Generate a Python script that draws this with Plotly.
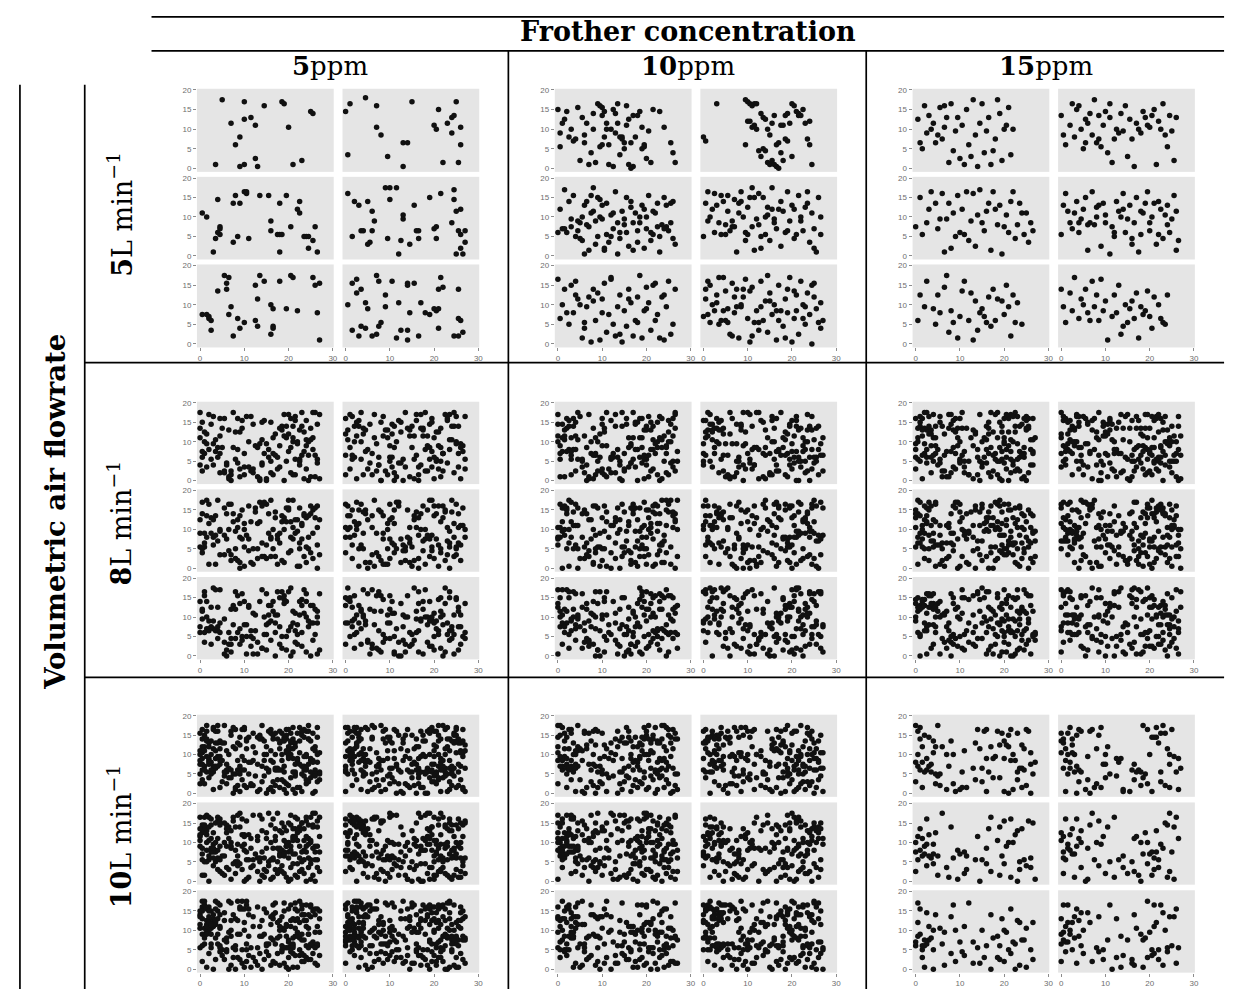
import plotly.graph_objects as go

W, H = 1252, 1006

flowrates = ["5", "8", "10"]        # L/min, table rows
concentrations = ["5", "10", "15"]  # ppm, table columns
x_ticks = [0, 10, 20, 30]
y_ticks = [0, 5, 10, 15, 20]

# Bubble centres of the six repeat images per condition, in reading order
# (top-left, top-right, middle-left, middle-right, bottom-left, bottom-right).
# Each token is "xy": one CODE character per coordinate, in steps of 0.5.
CODE = "0123456789abcdefghijklmnopqrstuvwxyzABCDEFGHIJKLMNOPQRSTUVWXYZ"

bubbles_5L_5ppm = [
    "az ky tw By Cx en kp nq pm El Ot Ps ig gc 72 i1 k2 p5 q1 G2 K4",
    "0t 2x 17 9A ew el gh j6 q1 qd sd uy Gu Em Fk I3 Kn Mq Nr Mi Oy Ql Qc P3",
    """1m 3k 62 79 8t 9f 9e 8c 9b fr f7 gv ha ir kx lw lx m9 rv vv wi wd Ar zb Ab
    Bb A2 Dv Ff Io Js Jm La Ma Na N4 P8 Qf R2""",
    """1w 3a 4s 6q 7d 8d as a6 b7 cd cn di iz kz kt j9 nz o1 p8 ql qj t6 vq wd xd
    x9 Ee Ff F9 Cu Hw Mh Ny Nt On Qo Pd Qb Q4 Sd S7 O1 R1""",
    """1f 3f 4e 4d 5c 57 8r bz dy cv cs df ej f4 hd i8 kb pu pc q9 qn rz tw w5 wk
    xi x8 x9 Aw Di Fz Gy Ih Py Qu Sv Rg S2""",
    """1k 3v 37 5q 5x 64 7s 79 98 9l ai c4 ez e5 f9 fw gb ip ij lw n3 ol p7 sv su
    s7 s2 tg vv x4 yl Ag Cf Ei Gi Fh Gs G8 Hy It N4 P4 Ps Pd Qc R6""",
]

bubbles_5L_10ppm = [
    """0u 2n 1b 5g 8f 3p a4 cd e2 gk ix kv lt mn ok qs rn sg ud vw
    wp xd y1 zg Ar Bt Cl Dc E5 G3 4t 6k 9v bq dn f8 h3 jw kc mk
    n2 pu qi s7 tg ua vm w2 x0 yr Ca Db Fj Hu Kt Ml Pd Q8 R3 1i
    7e ch gs jb kr lg nc p1 rx tf""",
    """0g 1e 6x jz ky lx mw nx ox qs rq sp tk uh vn wr xc yd zm Am
    Br Cs Ex Fw Gt Hr Ir Ju Kn Lf Mo N2 Mc jc ko lo ml nm ok p9
    q6 ra s9 t3 u2 v4 w2 x1 y0 z8 A4 Bf Ce Dn E6 Hs""",
    """1o 2e 3e 4c 5s 6f 7v 8a 9i ah b8 cq dg e3 fv gn h6 ia jt kj
    l4 mr n7 ol pe qx r1 s9 tn ug vc w5 xp y3 zm Ad Bh Cq D4 Ek
    Fv G8 Hb Im Jr K2 Lg Mu Nf Od Pr Q9 R6 0c 3y 6j 9d c1 fm iu
    l3 oa rh uj xs A7 Do Gc Jf Me Ph a9 ds gz jk mb pm sc vu yh
    Bk Ee Hn Ka Nq Qs bk ef hi kq""",
    """0a 1r 2i 4o 5w 7h 8b 9s ab bv cd df et f2 gm hx ik jc kp lu
    mf n3 oj pw q4 ru sb tl u8 vz wj xe yo z5 An Bc Cx Di Eq F9
    Gb Hv Ik Jd Kp Lx M7 Nm Oe P2 Qu Rk 2x 5c 8v bn ef hs kb nu
    qa tp wh zs Cd Fo Ii Lr O4 Rb 3k 6q ag di gr j8 mz pg sk vo""",
    """0x 1d 2k 3s 5a 6u 7g 8p 9n ak b3 c8 dj eo f1 gs hc iq j2 kn
    lv m6 nf ox pa q4 rj sp t1 uh v9 ws xl y4 zc Ao Bz C3 Dh Ei
    Fl G7 Hu Iv Jf K3 Lo M2 Nj Ow P5 Qa Rs 4g 8w cb gm kg oy s5
    wn Ab Et Ic Mp""",
    """0e 1n 2w 3b 4k 6p 7y 8c 9h ar bi c5 dv eg fs g3 hj io jx kd
    l1 mt nb oh p7 qw rc sm t6 uq vf wk x2 yu zh A9 Bn Cg Dy E1
    Fd Gp H5 Iw Jk Ka Lq Mf N0 Ov Pi Qb R8 1s 5h 9y d4 hk lr pb
    tz xh B3 Fr Jd Nu Rl 2f 6l ac eo is m4 qj um yc Cs Gh Kj Oo
    Sc 3u 7a bb fj""",
]

bubbles_5L_15ppm = [
    """1p 3a 5i 6r 8n 9d bv cf dl eq f3 gx h9 ij jq k5 lm m2 nu oc
    p6 qz rh s1 tn ux v8 wj xq y2 z9 Af Bz Cs D4 Ek Fm Gv H7 Ik
    2d 4w 7k ah dw""",
    """0r 1h 2c 4m 6g 7u 8w 9k aa bp cn ds eh fz gd hr ib jm kt l8
    mq n3 of pk qi rs sj tw u6 vp wf x1 yn zk Ai Bt Cq Dm El Fr
    Gu H2 Io Jk Kx Lh Mb Nr Oj P4 Qq 5x bd hf mx""",
    """0f 2u 3b 5h 6o 7x 9r ae bj cw d2 ej fr g4 hm ia jv kc lo mb
    nx o8 pi qw r5 sl ty uh vd wn xr y3 zx Ao Bg Cq D1 Ef Fl Gc
    Hs Ix J9 Kg Lr Mm Nb Om P7 Qh Rd""",
    """0b 1q 2w 4h 5e 6m 7s 8c 9j ao bu c3 dh ex fg gk hq i5 jr kl
    m1 nf oc ps qn rk sw tc uj vq w9 xh yu z2 Ab Bm Cr Dx Ed Fk
    Gr H6 Ib Jo K9 Ll Mq Nc Oj Pv Q3 R8 3n 8h cg gp kh oa so w6
    An Eh Is Mg Qn""",
    """1c 2p 4j 5w 8i 9a ap bg dt ez f6 gh hb j3 ke lr mw oc pq q2
    rm s7 tg ui ve wb xo y9 zs Ac Bn Dm Ef Fu Gj H4 Ip Jb Kl Ma""",
    """0s 1j 2b 4q 5h 6y 8d 9n ak bs cg dc ew fj gp hc ix jh km l2
    ne op pg qu r5 s9 tk ub vi wm xd yq z3 Aj Bf Ch Dr Ee F8 Go
    Ik Jd Kb La Mp""",
]

bubbles_8L_5ppm = [
    """k3 Bq 7f Pm e0 s9 Hx 2k Mv gb 0r Qd uj 9w Ds n5 Ja ah Rt c8
    Fh 4y wa Ol 1c ip Kz xe 6j Gs hg q2 Cy Nk m7 3o Ef tv bw S1
    yd 8h Ik o4 Lp dq 5t Ai jv r0 Pg fz Dm vc 2e Ml su Hb 9n lx
    Gk ar 0z Rb te Jq 7l zc Ey 4g pi Cn wu 1f Ks i6 Or e3 Fw mk
    Bs u1 6x Nd gp Hv b4 qh Qz 3j xm Lf jr 8c Da ot ke Ij Sy 0m
    vg Ar 5b Mi c9 Eo hw 2p Pz nx 9e sl Jb fh Kd yo 1u Gm rj d2
    r1 F4 68 Q2 k7 C0 x3 15 M6 h9 O2 b5 J8 u0 37 G3 o6 d1 R9 w4
    A7 94 i2 N0 s8 e5 L1 z6 H3 08""",
    """Cb 7k Ox lt zr 4c Fp wy iq 3b Ly ag Qj 0d tq Hh ms Dw e5 Ri
    6v jm Bn x7 pu Nz 2h Ie kc g0 Sx vb 8r Ag ov Em 1l us Kv b9
    Jy ce rz Gp 9q hn Ml 5u wd Pe 3x mh Ct yy ki 0o Df qb Ok f8
    Ha sr 4k zq Rf lc 7z Bi ej Ns 1q uh gu Kw Fb x3 o9 6s Ll dm
    Qh i5 tn Az 2y Ie m0 8o ka Du yr Oj fc 5n Gi pp wv Sb 3d Ms
    bt Ec 9f nk Hr jq 0w vn Lg r7 Ch 4s hx Ps dy 7b lo Fa zn Ie
    c3 P7 g0 B5 26 t2 K9 m4 E1 y8 51 S6 j3 D7 q0 83 I5 f8 v1 N4
    a6 H2 p9 x0 A5 l7 Q1 03 G6 n2""",
    """ux Na 6g cs Rw 2b qa Jv gj 8z Bo xk ir 5i Do mf Qq 1s Km t6
    e7 Gz wf 3g Os kn Ad pt 9j Ij fs yq 0b Lr hp Ev 6c zh Mq ry
    4n Pu bh sd Hi oa Ck 1y dx Rl vi 7h ju Fo mw 2i Ng Ez kk q5
    Sp xa 5q Jd ga Kn 8e ty Gf lh 3r Qv cf Br wz no Mb 0i Dv i3
    hl Ow 2d zf Ip uc 6p Ls ro Cq ex 9k Ai pv Fg kb 4x Nr sw jf
    1a Hp yt Rc m9 dk Ja 7r bv Eu qn Pi wg 3z Gl fo Kf ig 0p vs
    e4 J1 s6 97 C3 i0 O8 u5 42 F9 k1 M3 b7 z2 L6 18 h4 R0 w6 E8
    n3 P5 72 d9 I1 y6 B4 o2 S7 g5""",
    """Lj cl 8a Bu na Sk td 4o Mt ja ze Dz gt 6u Qc hf 2r Ox kp su
    Ff oy 5k xh Iw ld 0x Cz rb Ha 9u ei vr Ng 3c Pl mn Af jk 7x
    d1 Rm ow 6a Gc ys 2l Jt kx Dh b3 wl Nn 8i fu Ps 0g Ew qc i2
    Kl 3u mc Ak x0 Ob hi 9s Ld vp 1k sg Cf e8 zw Qm 5y jn Ho r4
    tl Bh 7c Mz g4 ny Fs 1w Iq pf 4h ub Sg cr 8t yk Er 0l Ju lq
    Oa hr 5m wt Db ap 2g Rv kf xq Lb 6n Ke tf q9 Gw 1r mu dz Pd
    m8 G1 35 N6 j2 D9 v4 a0 K7 p3 x5 H8 61 Q4 f6 A2 r9 L0 c7 t3
    E5 08 J4 u1 O7 h2 z9 93 C6 k5""",
    """Ni vh 3k bj Af sy 7d Hm 0s pl Rh yc e9 Ct la 4e Js go Mw ug
    2v Ex ie 9h Qb mp Kt c3 zl 6z Gn rs Ba o1 Ly 8f dc Ph wi 1o
    jw Da 6e ub Oq kg 4i Ig fq yl 0c Ms xn 3s hv Sw q1 Ff tb 8d
    Cv na 5p gx Rn 1j lg Hd e6 Mk vq 7y Au c0 Jl s4 Pq 2x Ed om
    ir Kc 0f zx Lm b7 wq Nf 9y hc Bx pd 3e Gh ks 5f Qo yh 1n tk
    eo Ds 8p mq Ib 4d uw Cr ja 6i Oh fg xs 2c Fz nd Rk 9c vl Kq
    b1 I6 w8 S3 27 n5 F0 q7 M2 g9 B4 l1 P8 i6 56 D3 y0 K5 o9 e2
    H7 s4 R1 89 A6 j8 G2 u3 O0 d6""",
    """gn 3f Lu wj Ea 0u sk 7n Pp cy Gd 4b mm Jz qf 1h Bk xd zo Nb
    5l Ig ht Qf a7 rk Mf 2s yi Di kh 8k ev Sc o0 Ak 3i ls Hu b1
    Hk wc 6q dg Ci 1z Ot ne 9i jh Ra ub 4j Fe xx Kh m2 Ld 7o fd
    pr 0h Em yj Nl c6 Jr 5c kv Bg i9 Pn 2u sv Gt zs 8l hb Md q8
    Dk aw 3p Ou lm e4 Fi 6h xr Ql 0q jl Hn vz 1t Kb bo tc 9g Sr
    r2 Cs 7e gv Il ma 4v Ay dn Pf wn 2a Lx ko Eh ql 8y fx Gb u6
    t5 N1 a8 E3 44 k9 Q6 p0 J2 h7 C5 z1 L8 c4 06 x2 M9 f3 I0 r6
    B7 76 P3 m1 D5 v8 H4 g2 S9 o7""",
]

bubbles_8L_10ppm = [
    """Bc 5s xj Ni rc 0n Hl 8g lr Qw e1 tz Cm 3q ia Jh yz 6d Ov kw
    4r Gu pe 1b Km wm fe Rz 9l ba Dq zt Eb 7w hm Lh sa 2t Pk ob
    jo Ag c4 Ma 6m vw 0t Ij ki Fd ym 3n Sf dh qs Hg 8u gr Ne xi
    1e Op n6 Bw 5g ue Ch mi Qn 7g ax Jk rg 2f Ll hd zu Db 9z ov
    Gg k4 wh 4w Ie bb Pt fk 0k Ry x9 Es 6f oc Nh jc 3l ts Kx lp
    qy Dd 8n Mn cn 1i Au he zg 5v Gq s1 Ok ik 7s Lw ey 2m Fx pc
    mz Sa u5 4f Hs d8 Rr yb 9b Bm kt Ju 0y vt Eq gd 6b Qa l3 Cw
    12 H6 q4 C9 d0 O3 w7 L1 i5 85 F2 s8 A0 k6 N4 g1 x9 J3 b7 R5
    m2 E8 63 u6 K0 o4 D1 z7 P9 h3 32 G5 t0 Q7 e2""",
    """1m Ir zd 7u Ka hs Pc 4l mg Ej sh 0e Nq co Gx vv 8b Lq b2 wb
    Db ly 3t Oc fj 9o Bp re 5h Qg jj Ha ue 2n Mc pz xw 6r Fn i8
    Sd gc 0v Am qv 4p Kk e2 Ce nh 8q Jm yg 1d Pr wk tm 5r Gs dj
    Ly aj 7q Ds ke 3a Nx x5 Rd hq ft 6w Ef oz Bd 2q vk Ia iz m6
    Mr zz Fc 9r lb 1v Ol sd Hq cz 4t pg Ji ga 8v Qs wr Co 0a ru
    bd Kg 5e yf Ev jp 3y Rj 7j oh Pa dw Gv n8 2z Lk ii Ah xf 9d
    u3 Ng kz 6k Jf fa Bl 1p sq Dt ms Hc 4q vx Sm c2 0j Gf ht Ms
    n8 B3 95 M0 f4 I7 r2 S5 l9 c1 E6 v3 H0 47 y5 O9 a2 K4 j6 D8
    p1 Q3 08 g7 u4 C2 N6 i0 x8 L5 b3 F9 s1 74 G0""",
    """6y Fk tb 0l Rs gw Ld 3h pm Ba iv Nm x2 5d Hf qd Cg zj 8x Ot
    2j Eg mo Ks hh 7t Qt cb Jw wo 4a yu Da e6 1l Pb sk lw Gi 9v
    ub Ap bg 3k Mh rv Ix kq 0f Sz o8 Fu 6o jb Dm xv Ox 8m ds Ht
    4v Cc ng wm Lz 9m Ro ff qo 2o Jn ib 5z Bv vj Ea 1g Nu yx g2
    ka Qr 7m tx Kc ep Gn zb 3v Me lj Pz 0c hw Is ri 6g Dy cu 4s
    sp Bj 8c ha Fq x8 Nz om 1x Hw ve 5k Lc ji Eu 2v Oy qq gk Rp
    dd Jj 9a ys Cl mt 7a Sk bs Gl ut 0g Ae fp 4u Kn la 3w Ql zv
    k4 P2 20 J7 e9 A1 t6 M3 h8 q5 R0 51 z3 D6 o0 I2 c5 w9 F7 m1
    N8 g3 B6 x4 90 L3 j1 S6 u8 E2 d7 s0 K9 a5 H1""",
    """Pe 8s ku Ja 1r wx Dg ec 5a Mg sz Hj i0 Oo yw 3m Fr qk bl Cf
    6t Ls hu 0k Nv nn Eq za 9t Bx gf 2w Rg vd 4m Ii lk xc Gg pb
    7v Ki cq Db rx 1o Qh mb Ag tj 5o Oz ja Hy 8b fw Jp o2 3d Ml
    wh 2e Sv ea Fm ko 0w Cd yq 4k Ln hn Ec uo 6s Pw dq Ix xy bk
    9p Gj sv Nx l4 7d Bg zp 1c Rf ic Dw q3 Mj gg 5w Kq ws e1 Af
    jt 3r Hh nw Oi 8r cx Lt vm 0m Jo ph Qe 2g Fg mr Cb tp 6l ia
    yv Ew 4c Ry gy ba Kp xl 9e Sh rl 1z Dv fi Nj kc Bu 7q Ht oq
    p6 C4 f0 O5 33 v7 G2 i8 Q0 n4 x1 B9 k3 M7 16 d2 E0 r9 J5 a8
    y3 L6 h5 P1 72 l0 I4 t8 D3 c6 N2 w5 R7 o1 F8""",
    """Iv e8 1f Ol wd Gk ng 6d Rm ya 3o Bt he Md ps 9k Jd lu Cp x6
    0y Fo jx 4h Ny bp Qi tg 7o Le qm cd Ex zf 2l Ic uu Hm 8g kl
    Sb ob 5u Ar gs 1n Pv i3 Ks wj dr Dl 6i mx Ob ff yn 3g Ja se
    8e Cv r1 Gw la 0p Hu x1 Rp hk 4y Mu ch Eo vb 2h Nc zk Ik bw
    af 9l Ds kj 5b Qo ym Fb 1u jd Lv e5 Bf so 7k Ko gl 3c Pc ub
    ml Hd 0r Ov qh 6j Ah wp Je c7 2y Sq ir Gr 8w ei Cx nc 4n Rc
    tu Ei 7x Lo do 9j Ng vf 1k Bz hx Pj 5x ls Da yc 3f Kw fm Qu
    j0 K3 s5 A7 b4 H9 g6 01 O2 e7 u0 F5 m8 Q9 i3 z5 54 C1 q8 J6
    l2 N0 w3 E4 d9 r6 G7 88 B2 x6 S4 h0 L9 26 v2""",
    """Ow ac 2p Hz lf 8o Ey qw 5l Nb gm Ci wa 0h Jg th Ra dp 3s Mm
    yi Dr 6n kn Fs bz 1w Pi xm 9n Kd ie Bo o6 4u Ge uf Sf jg Lp
    rm 7h Ie cv 2c Qx fo At zh 5j Hn p9 Os my 0d Ck vh Nf kx 8k
    Fa gh 3z Mx sb Ik eu 6c Rw lg Dk xk 1y Jl jw Bb qa 9x Lk hj
    Gz dc 4o Pg zm 7g Cq nv Nt b4 Ea wz 0i Ko ro Hi kd 5y Qb ts
    ve 2k Sg gq Iw ay 8z Dp l1 Of xb 3h Fv ce 6u Mw oo Jb iu Au
    9r Lm ft Bq 1j Gy yk Rx nb 4x Ep u0 Kr hr 7b Pq dk Ho qc 0x
    a9 D2 l5 M6 t1 I3 p8 c0 R4 17 y9 E3 h4 N9 o6 F1 w0 B8 k2 K5
    f5 S2 40 x7 G4 i9 P6 u3 n1 C7 95 J0 e6 A3 r4""",
]

bubbles_8L_15ppm = [
    """zp 3d Mt gf Ae 0j Rw kk 7i Hb ws Ew 2x pm Nc bu Jz c5 9s Ik
    xo 5q Dp hv Ls 1b Ox mf 4e Fg ta Ql ef 8m Ca yz jr 6x Gw o3
    Kj ro 0g Ps ie 3w Bz vc Me 2s dd Rf lz 7c Hy sg Ej ag 9m Nh
    fy 1r Ia uk Df 5z Ov nr kb Lc 4j Gp xe qi 8a Ch bb 6o Sm yh
    hq 0c Jp wl Ba 2u Rl do Em ji 3n Kx zd lr Pw 7q gt Fc m4 Or
    cs 9e Hf ty Qg 1m Ay ka 5g Ne vm ip Ds 4r bx Gi xr 8y Lf e2
    rp Md 6s jm Ix 0w sc Cu hh 2a Oq 7o Fy oa Js kw 3q Pr ld wg
    9i Bm fr Ab 1k gy Nw u9 Ek 5c qq Hl xu Re 8d iw Kb ma 4z Db
    31 K6 y2 E9 g4 O0 m7 B3 d5 R8 q1 H4 74 w9 G0 i6 N2 s3 a8 L5
    06 u7 C1 k9 P4 f2 z5 I8 o3 D0 59 h7 M1 x4 F6 c2 Q8 t0 J5 b9""",
    """eq Gv 2b Ld yx 7y jn Qk 0z Fh sr Ch 6k ok Ni bj 3u Rs lo Jw
    8h Dm vr Ar wa 1i Pa gm Hx 5e zv Ee cj 9d Kq mw Ok tc 4l Iy
    Bi hz 0o Mq qu 6r Fd ia Sn xg 2w lt Gm de 7x Jh pr Oa ub 3o
    nt Cy fw 8s Qe ju 1a Lk yh Dg 4q ry Hw a8 Ef kn 5k Na wv ct
    Rx gp 9h Bn sl 0e Ic xa Kf ev 3g Pd og 6q Ad mq Mj hd 2f zb
    ld Ga 7k Os bw 4f qe Fx i0 Ji uy 8u Db js Cr ke 1v Er vk Qa
    5s Ku re Hb df 9a Nm yr Lx pg 3j Ao hl 0m Sd fg 6i Mk tx Ip
    wd Bf 2h mv Pn cu 8x Ia oe 4v Gh zi 7a Rg kp Jc nl 1x Dy ax
    e1 N7 r4 A9 86 l2 I5 v0 D4 j8 S1 n6 F3 28 c7 K0 x5 G9 p2 B6
    h0 O4 y7 53 Q2 m9 E5 u1 i4 L8 07 a3 H6 s5 R0 g8 C3 w2 J9 o5""",
    """Lv 4i se Fa 0q Cw ko 8p Ql gd Nr 3f iy Eh xt 6a Jn bm Pe 1s
    wo Dc ym 5v Gu 9c hi Rj lq Bx 2d ux Ka oj 7w Se ca Ms 0b Hg
    qg Iq 4a Ab zm ed Oo 6h ns Fp 3k jy Dt ru 8e Ch gi Kl 1d vj
    yb Pu 5r Lw tm 9x bh Gc mj Qs 2i wk Ea fn 7m Nk xq Ic 0u hw
    Jd kt 3b Rr oi 6y Bl pt Md ac 1z Hu ue Dn zq 8i Ak lk 4p Og
    vn Ck 9o Sj gs 0l Ex cd 5n Lh yw Fm qm 2y iv Pb jf Gx 7e mh
    Na 4w rw Hj bc 6u Kp xj 1g Qd fl Ay tt 3m Ri em 8b Jv sa Dh
    kx 0s Bo wq Id 5o nf Cz hc 9y Ml uv 2r Ge
    b2 G8 t7 P0 45 k1 M5 q9 A4 f6 R3 x0 I7 e5 91 D8 o2 J3 h9 z0
    S6 c4 64 E7 n3 L1 w6 B5 j0 N8 u4 12 F7 l6 Q5 d1 y8 K2 r0 C9""",
    """yy Ob 3e Rk ib 7u Gq nj 0n Ks dv Bt 5i wj Ef hf 9b Pp mm Cn
    sj 2p Lb za 6d Hv kf Qr 1q ay Jx ex 4b Ng xy 8l Dq ph Ml gb
    Fe 0a vs Sa ri 3i Ij lc 7h Aq cx 5j Om wt 2g Ev jh Kt qb 9q
    Ci mc 6m Rh hs 1l Gb ze Nx by 4k Ls oo 8f Dx fz Ia sn 0v Ju
    tl Bc 3x Pl km 7l Qw du 5a Ho xc Mh gl 2e Fz u4 Kg ik 9z Eb
    Ou ai 6e Cs wf 1y Lr qr Jb nb 4y Rd ev 8t Gg lj Ah yl 0e Sk
    hm Dv 2k Nq fe 5u Ht cr Iw ow 7j Pm jt 3r Bg z6 Kv ms 9g Ee
    vh 0x Qc bn Fs 6f Mc xn 1e Gs rj 4o Ok iq
    94 O1 s6 C8 g3 H5 a7 u2 L7 x9 E2 i1 R6 m5 80 B1 q7 J8 d3 N5
    z2 F0 k8 Q6 37 t4 G3 o9 D6 h1 S0 b6 y4 I9 e0 M3 63 v5 A8 p2""",
    """Ic 9f lu Bh 2q wi Rb ef 6p Mo qc Gd 1u yj Pv hb 5w Kn nd Ch
    ar 3p Ny uz Ea 7v jk Lj oh 0k Ft dm Qv xf 8r Ja sx Dd ka 4h
    Hp g7 1n Sc mb Bu zn 6g Ow cl 5m Ij tt Ei ly 9c Ra wc 2a Ky
    fh Gj 3t Mp i9 Nn vu 0t Cp bk 7p Ph ql Ab en 4t Hd xx 8g Do
    jp Lm 2o Ec rf 6v Fl yo 1p Qq ga Ji kj 5d Om sw Bw hu 9k Dr
    Kd ot 4q Gv ze 8o Pj an Nd wx 3s Iu dl Cg lm 0r Rn uh 7r Hc
    bs Al 6w Mb qv 1c Ey gw Lg xp 5f Sb io Jt fd 2b Oe mu 9p Fr
    tn Ba 4d Ku vk 8w Dj hr 0i Gf
    f8 J1 x3 A6 l4 P8 c9 N3 20 w1 E7 r5 K3 g0 o7 D2 74 S8 j5 I0
    b1 u9 G6 m3 M8 51 h6 C0 y5 Q1 e4 L4 q6 F2 86 s9 H0 d7 O6 z1""",
    """nk 7g Ax 2x Lq cq Nl 5b Ig yf Ep 0p wr Rc ib 9v Ct hy Mg 3l
    qx Fj dg 6l Kk uc Pk 1v ow Ha sf 4c Qy ln Dz 8k gu Jg xk Bb
    ea 2r Ou ji 5t Mw rb Ia zy 0f Gq kr Sp 7p Cc vv 3h Lo fk Nb
    hl 9l Aj mr 1h Eu th Pf bv 4u Dc xz Kc pa 6j Re iu Hk oq 8j
    Jm cc 2l Bs yp Fv lh 5l Oj ug Gt 0y Qn ds Ml 3y ka 7b Ng wu
    Ed ge 1w Ct qp Ll 9u rz Sx ez 4x Ab hk Jq mp 6b Hl ox 8c Dl
    kl Ri 0d Ks yt cg Ne 3c wy Fp bf 5h Ip
    i7 B2 p5 R1 02 n9 G4 v6 M0 c3 K8 t1 E5 h2 x7 O7 48 k0 I6 a4
    D9 s2 Q4 g8 y1 L3 17 e9 F5 o0 J6 w4 C5 r8 A1 b0 P9 l5 N5 95""",
]

bubbles_10L_5ppm = [
    """0a Bh 4q gx Ns 1l ru Ka 7d yk Ej cf Qo 3w hc Pa mt 8j Dx vb
    Gi 2e se Lc ln 6y Aw zd Or 9r ip Hf 5k x1 Mc oh Fv 1s bq Rg
    jj Ce 4f wm Jy dd 0v Ih tk Sb 7q kx Ex ng 3b Gs fa 8z Nf uo
    Dl yc 2u Le aq Ph qf 6n Bk ie Ku lr 9h Ry cm 1o Hq wv 5g Mk
    g3 Oh th 3j Fq zs 0m Cb kc 7w Jl ov An eu 4i Qc bz 8e Gn xg
    rs Ei 6b Ds hh 2o Pv ma 5r Ns jx Ig yd 9n Bc fo 1f Lt uk Sl
    cb Ke 3r pl Md wx 0h Rt n4 Gy 7i vc Cr ew 4o Fk it Hb 8q Jf
    zc Qm 1x dk Ob ss 6e Aq ls 5c Ii ga Nw 2m xu Eo kh 9f Pn qt
    Lj ah 3s Mw fy Du 0k Br yv 7e Gb oo Sa jc 4h Kw tr Ho cc 8w
    mg 1i Fn wh Rk bb 6x Ct ud Jr 2c Nz ky 5a Oi hq Ac 9j El rt
    Pg xs 0f Iv ec Lx 4g Qa gn 3z Ha vw 7m Dm ia Bv 1c Mj sz Fr
    62 J3 u0 C6 e8 Q1 k4 H9 z7 A3 05 N6 r2 F8 i1 M5 b9 x6 D0 o4
    48 S7 g2 K1 t9 E4 c5 P0 w3 B7 17 L9 n5 G2 f0 R6 y4 I3 j7 O8
    93 q1 D5 a6 v2 Q9 l3 H0 d8 s6 25 M7 h4 C2 p9""",
    """eb 8i Gk qq 2n Ou yb Aj 5y hw Ls 0e Iz ne Pb 3c Cx kt 7x Jd
    uu Fb 9g Rl cs Nv 1a mi Ef wc 4j Ky fe Qq sm 6t Db ix 0q Hg
    zk Mb 2h ou Bw 8b Sm ji Gz ld 5p Ew xa 1v Ol rj Ka 3f cz Pq
    gc Jk 7c vn Ar bg 4w Nq tb Ic hs 0j Lh yw 9e Fa pn Cv 6k Rj
    mm Dy 2w kd Hs wf 5v Qe el 8h Ge ax 1y Mr sc Jb qh 3l Oy xo
    Bd ff 6g Ko zu 0b Ej iq Sd 4a Ld nw 7s Ps ca Aa jt 9y Hi ru
    Fo 1m bn Nu uf 3t Rr gh 8n Cw xi Ie oc 5q Ma kr 0y Gu dy Qm
    wo 2j Df 6r yj Jn lq Or 4n hh Bb ti 7h Ks vg Em ct 9a Pf mx
    Ab ee 1r Lm qs 5o Hc xd 3h Nd fi 8k Sp ka Gr zr 0c Fw pb Ql
    Ih jm 6v Me ws 2k Ck ah Rx sx 4y Ox nf 9k Dc ub 7l Jx gz Ep
    o5 I8 a1 E6 34 w0 P4 j9 G7 c2 R3 x8 K1 m6 B0 f4 89 t3 N9 h7
    L2 r5 D6 01 y3 S1 l8 F5 e7 A0 v4 O3 i2 J9 57 q0 C8 z3 M4 b6
    H1 u8 k5 Q7 g1 72 s4 E9 n0 L6 d3 x5 G8 p1 R2""",
    """1t Hr cp Qf xw 5h Aq kj 8v Mf ry Ek 0x Gn hd Ps va 3q Ji bk
    Lr oy 6f Di zh 2s Nm eh Bu wk 9t Sf qc 4b Fy lf 7a Cd is Ok
    ga 0l Ku um Rb ds 3g He yl 5t Il bu 8m Qz jw 1e Gr nm Ad tc
    6c Pz xb Mi kg 2r Ec fv 9w Nj ci Js sq 4x Bf ha 0i Ol wt Cl
    7u Dk pe Rv mb 1h Gl zz 5m Fi rc Lb gs 3o Hn eq Sx 8c ji Ku
    yr Ae 4s Ph lb 0n Qb uh 6p Iw dm Mv 2a Cs fx 9i Eu ob Nc ko
    3y Jq wb Bg hj 7f Ob xc Di 1p ql Ft ad 5w Lg iz 8g Rs ct Ka
    nh 2x Gm sf 4l Hx yn Ah 6j Qi bd Mx 0r Ef jo 9b Nt up Cf 3k
    ek Dq 8x Ip ra 1b Sn lv 5f Jc gg Ox vz 2t Bp mo 7k Fg hy Ll
    4d Ri za Ge cr 0o Pt kn 6h Hm xh Ce 9u qn Kf ei 3a Mn sw Ag
    z4 F1 h8 N7 23 s3 B5 k0 O9 d6 I2 v8 a4 M0 q5 G9 68 e1 R7 t2
    C4 o8 J5 l1 y6 E0 95 P3 c7 K6 i9 D2 w1 S5 40 n7 H3 f9 A6 r0
    L4 b3 x2 Q0 j6 86 u5 F7 m2 I9 g4 O1 13 t6 B8""",
    """1d Nn wl Fe 5x jd Qu bo 8f Cq ps Ia 3e Lq gv 0t Hd yg 7r Ok
    mj Bz 2q Rt ef 6u Ed kx Jh ua 4m Gb cl 9o Pr hg Ds vj 1n Mt
    qo Sc 5e Ag ib 0g Kr xe 3v Lw lk 8p Oc dw Ff 6d Ic sk 2b Hz
    tg Cm 7v Nh bi 4c Qk yx 9p Ea ge 1j Js oj 5j Do ar Bj zg Mg
    wi 3u Fl kb Pw 0d Gh hv 6w Rn cd 2y Kb ny 8t Ay ly Ib fc Lu
    4t jl Oe rd Cj 9v Ho ej 1k Nd xz 7b Su mc Ex 3x Bn ii 5s Qh
    dx Mq 0p Jt uq Gw 6a kk Ra 2v fq Ds ob 8a Ki wu Fj hb 4f Pi
    yi Al 9d Le s1 3d Hj cw Ot 7t Ix gu 5o Cz ri 1g Ng zm 6i El
    qa 0w Kk bl Sv 8s Qc ex Gt ld 2p Jj vm 4v Dg kz Mc 9q Br pf
    k2 N3 y9 C1 50 p7 H6 e4 R8 i0 G5 v6 L2 a9 E3 s1 84 M1 h5 A9
    z0 D7 o3 J4 c8 Q5 27 t7 K3 f1 w8 B4 l6 P2 05 r3 I7 x1 F3 g6
    S4 m9 98 O6 d2 u0 E1 j4 Q2 a2 H5 n8 36 y0 C7""",
    """aa Hh 3p Ni wg 7n Fc xq 1w Qj mh Ap 5b Kf ii Or 9c Cy tv Gd
    0s Ls ja 6q Db ce Mx 2l Rv hi Iu 4p yy Bl kk 8u Pc or Ev 3n
    sh Jo 1i Gc zo 5l Sj fs Ni dj 9x Ck ut 0r Hp bf 7o Ks lz Ah
    4k Qv ey 2i Fx nb Lp wn 6s Ee gq Mc 8d Ox qw 3m Jz xf 1q Rd
    ko Bc 5u Iq vd 0u Dm hz 7g Nb iv 4r Gq ms Pu 2d zg 9s Cb ep
    Ki 6o ud Hv la 1z Qs fb 3j Am xs 8y Ls cg 5d Ef rm 0l Ow jv
    7p Sq bt Fm yd 2g Jg om 4o Mp hp 9m Rc kv Dn 1u ga 6m Ih wr
    Ba dz 3i Kx sp 8q Nl ek 0b Gg ti 5i Pe xx Cu 2z ld Hl 7z Eb
    jz Qb 4w Lf mv 6n Od ca 1c Ja yt 9l Fp gc Su 3v Ak rh 8i Mm
    0n Dh uc Rm iw 5n Ij qb 2x Br eh 7v Kv lx Gb 4u Ns bp 9b Hy
    h6 D1 r8 L4 31 b5 J7 y3 E0 m7 R2 c9 N5 s0 G8 x4 75 A2 f6 K4
    u9 O5 k1 99 I1 p4 F9 i5 S7 e2 z8 H7 n1 C3 48 t5 M6 g0 Q3 a7
    B9 o6 w2 L7 14 j3 E6 d0 P8 v7 G1 l4 60 K8 q2""",
    """fj Cn 3a Og yp 8l Lz kp 1g Ek rf 6z Jp hk 0c Qt wj 5w Ma dv
    Ge 2f xj Ir bj 7c Nk sl 4z Dp ne Pf 9a Bs ho 1y Rq uy 6h Ft
    mk 3o Kh gr 0j Hw za 5c Sg ev Ly cc 8o Ai pu 2k Mn jd 4g Cf
    Od ws 7j Eq lh 9g Jc ax 1f Qw tp 6b Gx id 3c Fd yq 0m Ng bu
    kj Pm 4n Ba rq 2m Hn vl 8r Lk fp Dt cv 5v Ix sb 0x Ru hn 7k
    Ap wa 3q Mf mw 9r Cv ih 6r Oo xn 1s Kg dh 4e Sr gi Jv yl 2o
    Ej na 5h Qp bx 0h Gp qh 7y Nf uj 3g Dw ke 8v Hb lm 1o Lq eg
    zx Br 6g Ih oa 2h Rf jc 9s Fo wd 4i Mh fn 0e Av tr 5z Pc ck
    Cx hd 1r Kl xb 7e Oh ly 3w Ji gd 8h Gl sv 2n Ew pq 6l Dd Nx
    uw Ql 4j bc Hf qz 0v Lt iy 5t Bw mf 9w Sf dl 3u Ky ar 7w Fb
    oi Ia 1k Pp vx 6o Gv ez 2p Md jx 8n Ce kl 4l Rh yu 0f Jh tm
    c1 O6 u3 F4 76 l9 K0 x7 B2 f5 P1 i8 M9 r4 H6 a0 03 E7 y2 J0
    h3 S3 n6 D4 61 w9 G6 d4 Q8 s7 b8 I4 z6 N2 29 j5 C0 p6 A5 e8
    R5 t0 L1 k7 92 g9 F2 v3 O1 m4 H9 47 y7 D9 q3""",
]

bubbles_10L_10ppm = [
    """hx 2c Ng we Ds 6h qs Bi 0z Kc mn 4t Rv an Fh yo 8k Jr cv Oe
    1u Ib lj 5c Pt gw Ek tb 3r Lz xk 9e Hs dn Cp rw 7b Qd je Ag
    0h Mi ud 6v Gq bm Sa oq 2e Dy kc 4f Nc zt Jg fr 8d Eu iw Bj
    3j Ox vy 5x Hl sb Ld ev 1z Kq ph 7d Cm yc 9m Ra lp Fs gk 0o
    Pj cw 4d Mz ni Ao xi 6e Iy tt 2y Gm he Qx ka 8f Db wt 3v Nm
    ro Jq 0t Ew bh 5n Ss qk 9o Lh zh Bc fc 7q Ou ma 1e Hu vq Ct
    ib Fz 4i Ki dp 6x Rs ji 2h Gd ww Mo uq 8m Ae gf 3n Pq sr Dk
    yg 1j Qn ol 5d Ic xr 7k Ny ef 9z Ja kv Bq ti 0l Ls hp 4a Fk
    a7 M3 t2 D8 43 k5 P0 x1 G9 f6 R4 n8 J2 c0 B6 v9 81 O5 i3 E2
    z7 L9 h0 s5 Q1 05 d3 H7 y4 K8 m1 C5 p9 I0 67 g4 S2 u6 F3 b1
    N7 r0 A3 w8 j6""",
    """Ci nf 3k Ol wq 8v Gf at 1n Mu kh Rd 5l zl Jf ed 0c Ev ue Hm
    6d bs Kb ym 2s Pc hl Aq 9j Ly ok Dm 4u xe Qg ic 7s Fc lt Nw
    cj 1q Sl gl Bx 5e vs Iz 3b Mh ra 8y Cb fw Oc 0w qj Hc jy 6k
    Ep tw Ja 2r zw Ke db 7h Pn mw 4b Gj xx Lk kk 9f Rl ej Bf 1r
    Dl vp Nk 5g iu Fw 0i Qh sh Cz 3t ok Ar bw 8h Ij hj Md yf 6u
    la 2t Oq wm Eh 4h cq Jo xn 7n Hh gt 1b Sd qm Bo 9p fh Kr ug
    Gw 0q nx Lv 5s ji Da rb 3f Qr ey 8e Ik mo Fe 6p Ns zp 2l Ab
    kw Pi 4w hy Cd vn 9c Oi sa 1x Mn dk 7u Ru ia Ha yt 5m Je ct
    q4 G2 e9 N6 18 x3 B1 l7 R9 c5 J6 u2 E7 h1 92 M4 z0 D5 o8 F1
    a4 Q7 s3 K2 56 i6 A8 v1 P3 g9 t7 H3 b0 L6 30 y8 C9 n2 O0 f4
    I5 k8 74 S1 d5""",
    """2b Gk oz Lr em 7m Ql uu 0g Dw ip Ba 4l sy Nu hb 9i Fn cl Jt
    6f Ko ye 1d Mg wk 3c Ex gp Ps lq 8a Ci rk 5p Hv xd Ow ad 0y
    Id ng 4k Rj zm 2m Aw bb 7f Lm tq Sg kq 9u Gy ec 1h Nh vv 6i
    Cq hu 3p Ju ja 8c Em qa 0p Qf fy 5f Kj mh Dg ws 2i Pb oo Bv
    9g Hc xl 4n Oj db 7x Mb ks 1k Ie zg 6o Fr ga Ld 3d Gr uy An
    qv 0m Nq ct 5o Rx hq Cf 8n Jl wi 2w Ek rr Pe lc 4y Dz y9 Hk
    bo Sc 7w Bh nc 1f Mt iz 3e Oa ve 9q Gc sd 6y Kx fk 0u Qj mu
    Iq 5i xw Lb dr Al 2u jh 8g Fp py 4e Nb gn Hg 0k Ry tl 7i Dc
    ek Ji 1s wv Cn 6w ml Ez 3i Pp zc 9h Mf hg Bk 5r Ot bv 2g Ia
    j9 L0 w4 F6 64 p1 Q5 c7 H2 u3 A0 f8 M7 r1 99 D3 x6 K9 e0 N4
    i7 B8 s2 G5 27 o4 R1 z9 E6 b3 l8 J3 h5 O7 01 v2 C4 g7 I1 q6
    S5 y1 85 P2 k3""",
    """zq 4p Hd nh Os 8u Ab fl 1w Lq ty 6r Gv jo Rb cr 0d Mp wh Fl
    3m Du ib Nr 9k kg Qs e9 5w Is xt Cg 2j ph Jk lk 7o Ee 1i Bt
    qg Kd 4b Pq ys 0e Hi gc 8i Mj uf 6a Ru dh 3x Fx bl Lk 9l Sm
    Cy ox 2d Ja hn 7e Og mj 5b Ez tu 1c Nl wj Gh ak 4h Qp ir 8j
    Dr fa 0n Kt vk 6c Bm zb 3s Iv lh 9s Hx cg Pk 2o Le rt 5j Af
    gg Mq 7l Rr jm 1t Fg yk 4s Ou ee 8p Ch qq 0f Jm sh 6s Nn kp
    Gu b9 3o Lg xo 5k Dq nu 9a Qm ge 2p Hj vr 7c Ie ml 1l Sj fe
    d1 K4 r6 B3 73 z2 E8 a5 N0 n9 G1 w7 I6 f3 08 Q2 t5 C7 h9 L4
    x0 H5 j2 O9 32 m8 D1 u6 A7 e4 p0 R6 c8 J7 55 s4 F0 i1 M5 y9
    B9 k6 90 P7 g2""",
    """Ry 6g jr Bd 0q Nh ue Fo 3h Ma cb 8w Kj xm 2k Ax ih 5h Pg lv
    Eo tc 9y Hq gs 1m Ol yj 4a Je or 7g Dh kr Cx bn 0j Ik wm 6m
    Lu ad 3u Gn fx 8l Qk sj 2f Nv hh 5x Bs mz Fb 9b Rh pe 1p Mc
    dg Sf 4o Ks zi 7r Ex ld 0w Pl vo 3a Hb iq 6j Dn xj 2q Jy cn
    Ak gi 8r Ob rc 5a Lj nj 1e Cj wb 9r Go ty 4w Mv eh 7h Qc kl
    Fk bz 0b Ii hr 6q Nd q3 2z Ba jg 8o Pr ui 3q Ew fs 5v Ka ym
    Rg ms 1a Hz xa 7j Dd ok 4d Lo cd 9n Jh sp 0r Gb ze 6t Cl ib
    v5 A1 h2 P4 16 l3 H8 c9 G0 q7 S3 w5 D2 e6 71 K6 z4 N8 b2 M1
    i4 F9 o0 C6 39 u7 Q4 r3 J0 y1 f7 E3 m6 O2 47 x9 L7 d5 I3 t8
    B5 j0 83 R3 a1""",
    """2v Np kd Ef wn 7p Ac pb 0o Qq hf 4c Hs ys 9d Lc bq 1g Jw mx
    Ih dd 5q Ms tn 3g Cs ia 8b Rn fp 6n Bp xr 1j Oo lb 4v Gm uc
    Fy qo 0x Kh cu 7a Sb gq 2n Dv nn 5s Pw ju 9x Ei re 3l Lx yb
    Hn mf 6b Ar oc 1o Nj wf 4q Jc xc 8x Qe ev 0a Gt kf 7y Bw hl
    Dj ry 3w Mr ba 9o Is zs 5u Ct lj 2a Fq qd 8q Oz gj 6d Kk ur
    Ld ih 1u Re tz 4m Ek bd 7d Pa xy 0s Hw nk 3z Ah vd 9t Nd ft
    Gg kb 5c Jx sm 2x Mb yc 6c Cl dw 8s Qy oq 1v Bn hz 4r Sa jd
    Il eb 7t Oy wg 0g Fh pj 3a Kl cx 9c Dm ml 5g Ru iv 2e Hf xq
    zu Ns 6v Ez gb 1h Lt ro 8t Ae ax 4j Jb qu 0p Gs sa 7r Cu ka
    g5 N1 s9 C3 24 o6 J8 b7 E5 x4 R8 d2 L5 k0 96 H4 u1 A9 m3 Q6
    f0 I7 z5 G3 52 t9 D6 h8 P0 n3 e5 K1 y2 B0 80 r7 O3 j4 M8 v0
    F6 i2 69 S0 c6""",
]

bubbles_10L_15ppm = [
    """2y 5c Gu qd 0g 8r Mp hk Cp 1e sx Kb 3o Ik ek Bw 9a Ql wi 4b
    Hx ba 6t Nn yo 2s Ei n3 Aj 7f Ra vw 1k Ld gr 5i Ox co Fp zi
    4u Sg lb 0z Jh rq 8l Pw i1 Dv xb 3g Md k2 Go 6e ud Qf az 1w
    Er mm 7b Kv wx 2c Hh tn 9o Nc fe
    33 G0 e2 O4 w1 95 K7 l3 C8 u6 a9 Q0 h5 E1 r7 M3 06 z8 I2 b4""",
    """1d 4y ex Ht 0v 7u Pj jf 3a Dx iy 2n Lv qg 6b Bz kf 5p Nk 8c
    cj 1s Qb xf 9w Ft s1 4g Kz wc 3k Jb ma 0r Iq hu 6k Ri b2 5s
    Gt zc 2h Mn lo 8x Ca ri 7e Ox f3 1q Ek gn 4d Sd yb 0l Jv pi
    3v Nf dw 5l Ab kk 9b Hy
    70 N3 g5 B8 s2 21 J6 p9 F1 x7 d0 L4 k8 R2 i3 86 D5 v1 A4 c7""",
    """0f 3m Ev 6o Bl 1b jg 4e Qc xr 8e Hw 2g nd Mr cz 5w Jo gs 9p
    La ub 1n Gk rb 7c Dd ke 3d Pv yx 0k Fi sn 6d Nb hc 4i Kq ad
    2r Ik wh 8j Cs mf 5j Ru
    58 H2 m4 Q7 t0 a3 E9 y5 L6 j1 05 O8 f2 C3 w9 89 K0 n6 S1 e7""",
    """1c 5r Hf ox 0l Dk 9q ij Nz 3h gk Be 7i Lu qb 2w Ff yn 6e Jj
    ma 4g Ps dt 8m Cp wa 1n Kh ls 5e Gc xm 0p Rm ch 3j Mt ez Ee
    2b Ak hv 7w Of sd 4o Ib jn 9k Qx fb 1f Hq
    14 I7 o2 D9 u4 c1 N5 h8 A0 z3 62 G6 s7 P1 k4 97 F3 b0 M2 x5""",
    """0e 2i 4c Dq bl 6f Kp 1y gr Nf wc 3a Hv 8k ik Bh 5t Mf qe 0c
    Jd ys 7g Qa mm 2v Ek cd 9s Lo hx 1h Fj sb 4f Cc zg 6m Ol ke
    3c Ga uk 8a Ie oy 5d Ro dj 1o
    41 B6 q3 R5 g8 d2 J0 v6 E4 l9 80 O1 i4 H8 y0 36 L2 m7 C5 t3""",
    """1j 3o Gm ak 0d 6g Pr lf 2m Ej xs 8p Cg 5a Kt hr 1x Mb w5 4i
    Bf 9c Nr pq 3e Ia do 7v Ho s7 0q Jx gb 4k Dz yl 6r Qv ct 2e
    Lk mx 5o Fa rh 8h Ai ja 1f Oc 3x Gx uf 9t Rb 0i
    29 Q3 n0 F7 j5 a8 K2 w3 D6 r1 73 M9 e4 I5 x2 04 G8 p6 B1 h9""",
]

grid = [
    [bubbles_5L_5ppm, bubbles_5L_10ppm, bubbles_5L_15ppm],
    [bubbles_8L_5ppm, bubbles_8L_10ppm, bubbles_8L_15ppm],
    [bubbles_10L_5ppm, bubbles_10L_10ppm, bubbles_10L_15ppm],
]


def decode(block):
    xs, ys = [], []
    for tok in block.split():
        if len(tok) != 2 or tok[0] not in CODE or tok[1] not in CODE:
            continue
        xs.append(min(CODE.index(tok[0]) / 2, 29.0))
        ys.append(min(CODE.index(tok[1]) / 2, 18.5))
    return xs, ys


# page geometry (pixels)
col_x0 = [200.7, 559.7, 918.6]   # x = 0 of the left panel in each column
pair_dx = 146.0                  # left -> right panel
x_px = 4.44                      # pixels per x unit
row_ticks = [                    # (pixel of y=20, pixel of y=0) per panel row
    [(87.3, 166.0), (175.7, 254.0), (263.7, 342.3)],
    [(401.5, 479.5), (489.5, 567.5), (577.5, 655.5)],
    [(715.7, 793.5), (803.8, 881.7), (892.0, 970.0)],
]
X_RANGE = [-0.7, 30.2]
Y_RANGE = [-0.9, 20.3]

TICK_FONT = dict(family="Liberation Sans, Arial, sans-serif", size=8, color="#6e6e6e")
SERIF = "DejaVu Serif, serif"

fig = go.Figure()
layout = {}
n = 0
for r in range(3):
    for c in range(3):
        for k, block in enumerate(grid[r][c]):
            n += 1
            pr, pc = divmod(k, 2)
            x0 = col_x0[c] + pc * pair_dx
            left = x0 + X_RANGE[0] * x_px
            right = x0 + X_RANGE[1] * x_px
            t20, t0 = row_ticks[r][pr]
            y_px = (t0 - t20) / 20
            top = t20 - (Y_RANGE[1] - 20) * y_px
            bottom = t0 - Y_RANGE[0] * y_px
            sfx = "" if n == 1 else str(n)
            xs, ys = decode(block)
            fig.add_trace(go.Scatter(
                x=xs, y=ys, mode="markers",
                marker=dict(size=5.5, color="#111111"),
                xaxis="x" + sfx, yaxis="y" + sfx,
                showlegend=False, hoverinfo="skip",
            ))
            layout["xaxis" + sfx] = dict(
                domain=[left / W, right / W], range=X_RANGE, anchor="y" + sfx,
                showgrid=False, zeroline=False, showline=False,
                tickvals=x_ticks, showticklabels=(pr == 2),
                ticks="outside" if pr == 2 else "", ticklen=3,
                tickcolor="#8c8c8c", tickfont=TICK_FONT, fixedrange=True,
            )
            layout["yaxis" + sfx] = dict(
                domain=[1 - bottom / H, 1 - top / H], range=Y_RANGE, anchor="x" + sfx,
                showgrid=False, zeroline=False, showline=False,
                tickvals=y_ticks, showticklabels=(pc == 0),
                ticks="outside" if pc == 0 else "", ticklen=3,
                tickcolor="#8c8c8c", tickfont=TICK_FONT, fixedrange=True,
            )


def hline(y, x0, x1):
    return dict(type="line", xref="paper", yref="paper",
                x0=x0 / W, x1=x1 / W, y0=1 - y / H, y1=1 - y / H,
                line=dict(color="black", width=1.7))


def vline(x, y0, y1):
    return dict(type="line", xref="paper", yref="paper",
                x0=x / W, x1=x / W, y0=1 - y0 / H, y1=1 - y1 / H,
                line=dict(color="black", width=1.7))


shapes = [
    hline(14, 152, 1228), hline(48, 152, 1228),
    hline(361, 85, 1228), hline(677, 85, 1228),
    vline(510, 48, 990), vline(869, 48, 990),
    vline(20, 82, 990), vline(85, 82, 990),
]


def label(text, x, y, size, angle=0):
    return dict(text=text, x=x / W, y=1 - y / H, xref="paper", yref="paper",
                showarrow=False, textangle=angle, xanchor="center", yanchor="middle",
                font=dict(family=SERIF, size=size, color="black"))


annotations = [label("<b>Frother concentration</b>", 690, 29, 27)]
for conc, cx in zip(concentrations, [331, 690, 1049]):
    annotations.append(label(f"<b>{conc}</b>ppm", cx, 63, 26))
for rate, cy in zip(flowrates, [212, 522, 837]):
    annotations.append(label(f"<b>{rate}</b>L min<sup>−1</sup>", 120, cy, 27, -90))
annotations.append(label("<b>Volumetric air flowrate</b>", 55, 511, 27.5, -90))

fig.update_layout(
    width=W, height=H,
    margin=dict(l=0, r=0, t=0, b=0),
    paper_bgcolor="white", plot_bgcolor="#E5E5E5",
    shapes=shapes, annotations=annotations,
    **layout,
)

fig.write_html(
    "out.html",
    config={"displayModeBar": False},
    post_script=(
        "document.body.style.margin='0px';"
        "document.body.style.overflow='hidden';"
        "document.documentElement.style.overflow='hidden';"
    ),
)
